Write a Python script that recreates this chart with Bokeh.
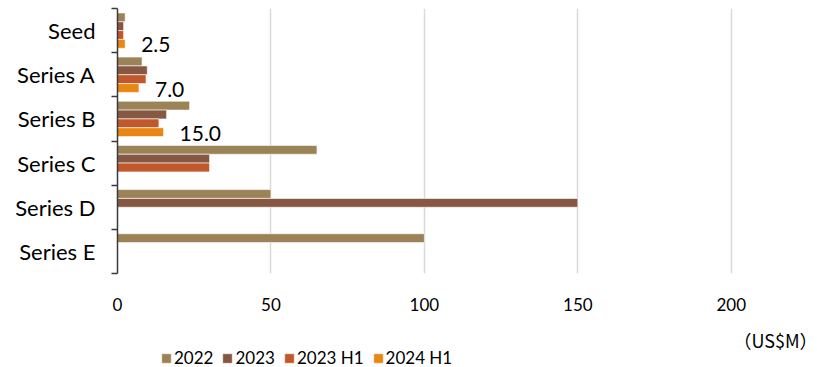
from bokeh.plotting import figure
from bokeh.models import FixedTicker, Legend, LegendItem, ColumnDataSource, Range1d, Label
from bokeh.layouts import column
from bokeh.core.properties import value
from bokeh.embed import file_html
from bokeh.resources import INLINE

# ---- data ----
categories = ["Seed", "Series A", "Series B", "Series C", "Series D", "Series E"]
series_names = ["2022", "2023", "2023 H1", "2024 H1"]
v2022 = [2.5, 8.0, 23.5, 65.0, 50.0, 100.0]
v2023 = [2.0, 9.7, 16.0, 30.0, 150.0, None]
v2023h1 = [2.0, 9.3, 13.5, 30.0, None, None]
v2024h1 = [2.5, 7.0, 15.0, None, None, None]
x_ticks = [0, 50, 100, 150, 200]
unit_label = "（US$M）"

# ---- style ----
colors = ["#9B8357", "#865742", "#C0582B", "#E88616"]
FONT = "Lato"

series_values = [v2022, v2023, v2023h1, v2024h1]
n = len(categories)
centers = [n - i - 0.5 for i in range(n)]

# ---------------- main chart ----------------
p = figure(width=817, height=320, output_backend="svg", toolbar_location=None,
           x_range=Range1d(0, 228.1), y_range=Range1d(0, n),
           min_border_left=117, min_border_right=0, min_border_top=8, min_border_bottom=47)
p.outline_line_color = None
p.background_fill_color = "white"

sources = []
bar_h = 0.2
for j, (name, vals) in enumerate(zip(series_names, series_values)):
    off = 0.3 - 0.2 * j
    ys, xs = [], []
    for c, v in zip(centers, vals):
        if v is not None:
            ys.append(c + off)
            xs.append(v)
    src = ColumnDataSource(dict(y=ys, right=xs))
    sources.append(src)
    p.hbar(y="y", right="right", left=0, height=bar_h, source=src,
           fill_color=colors[j], line_color="white", line_width=0.6)

# data labels for 2024 H1
lab_y, lab_x, lab_t = [], [], []
for c, v in zip(centers, v2024h1):
    if v is not None:
        lab_y.append(c - 0.3)
        lab_x.append(v)
        lab_t.append(f"{v:.1f}")
p.text(x=lab_x, y=lab_y, text=lab_t, x_offset=16, y_offset=1,
       text_align="left", text_baseline="middle",
       text_font=value(FONT), text_font_size="21px", text_color="#000000")

# x axis
p.xaxis.ticker = FixedTicker(ticks=x_ticks)
p.xaxis.axis_line_color = None
p.xaxis.major_tick_line_color = None
p.xaxis.minor_tick_line_color = None
p.xaxis.major_tick_out = 0
p.xaxis.major_tick_in = 0
p.xaxis.major_label_standoff = 24
p.xaxis.major_label_text_font = FONT
p.xaxis.major_label_text_font_size = "17px"
p.xaxis.major_label_text_color = "#000000"

p.xgrid.ticker = FixedTicker(ticks=x_ticks)
p.xgrid.grid_line_color = "#D9D9D9"
p.xgrid.grid_line_width = 1.5
p.ygrid.visible = False

# y axis: labels at centers, ticks at boundaries
p.yaxis.ticker = FixedTicker(ticks=centers, minor_ticks=list(range(n + 1)))
p.yaxis.major_label_overrides = {c: cat for c, cat in zip(centers, categories)}
p.yaxis.major_tick_line_color = None
p.yaxis.major_tick_out = 0
p.yaxis.major_tick_in = 0
p.yaxis.minor_tick_out = 6
p.yaxis.minor_tick_in = 0
p.yaxis.minor_tick_line_color = "#3A3A3A"
p.yaxis.minor_tick_line_width = 1.5
p.yaxis.axis_line_color = "#3A3A3A"
p.yaxis.axis_line_width = 1.5
p.yaxis.major_label_standoff = 16
p.yaxis.major_label_text_font = FONT
p.yaxis.major_label_text_font_size = "22px"
p.yaxis.major_label_text_color = "#000000"

# ---------------- footer: unit label + legend ----------------
# (its frame is aligned with the main chart's frame: left edge at 117px).
# The legend renderers share the chart's data but the footer's ranges keep them out of view.
f = figure(width=817, height=47, output_backend="svg", toolbar_location=None,
           x_range=Range1d(-1000, -999), y_range=Range1d(-1000, -999),
           x_axis_location=None, y_axis_location=None,
           min_border_left=117, min_border_right=0, min_border_top=0, min_border_bottom=0)
f.outline_line_color = None
f.grid.visible = False

f.add_layout(Label(x=700, y=28, x_units="screen", y_units="screen", text=unit_label,
                   text_align="right", text_baseline="middle",
                   text_font="Noto Sans CJK JP", text_font_size="18px",
                   text_color="#000000"))

key_renderers = []
for j, name in enumerate(series_names):
    kr = f.hbar(y="y", right="right", left=0, height=bar_h, source=sources[j],
                fill_color=colors[j], line_color="white", line_width=0.6)
    key_renderers.append(kr)

legend = Legend(items=[LegendItem(label=nm, renderers=[r]) for nm, r in zip(series_names, key_renderers)],
                orientation="horizontal", location=(43, -1))
legend.padding = 0
legend.margin = 0
legend.spacing = 8
legend.glyph_width = 12
legend.glyph_height = 12
legend.label_standoff = 2
legend.label_height = 14
legend.label_text_font = FONT
legend.label_text_font_size = "17px"
legend.label_text_color = "#000000"
legend.border_line_color = None
legend.background_fill_alpha = 0
f.add_layout(legend)

open("out.html", "w").write(file_html(column(p, f, spacing=0), INLINE))
